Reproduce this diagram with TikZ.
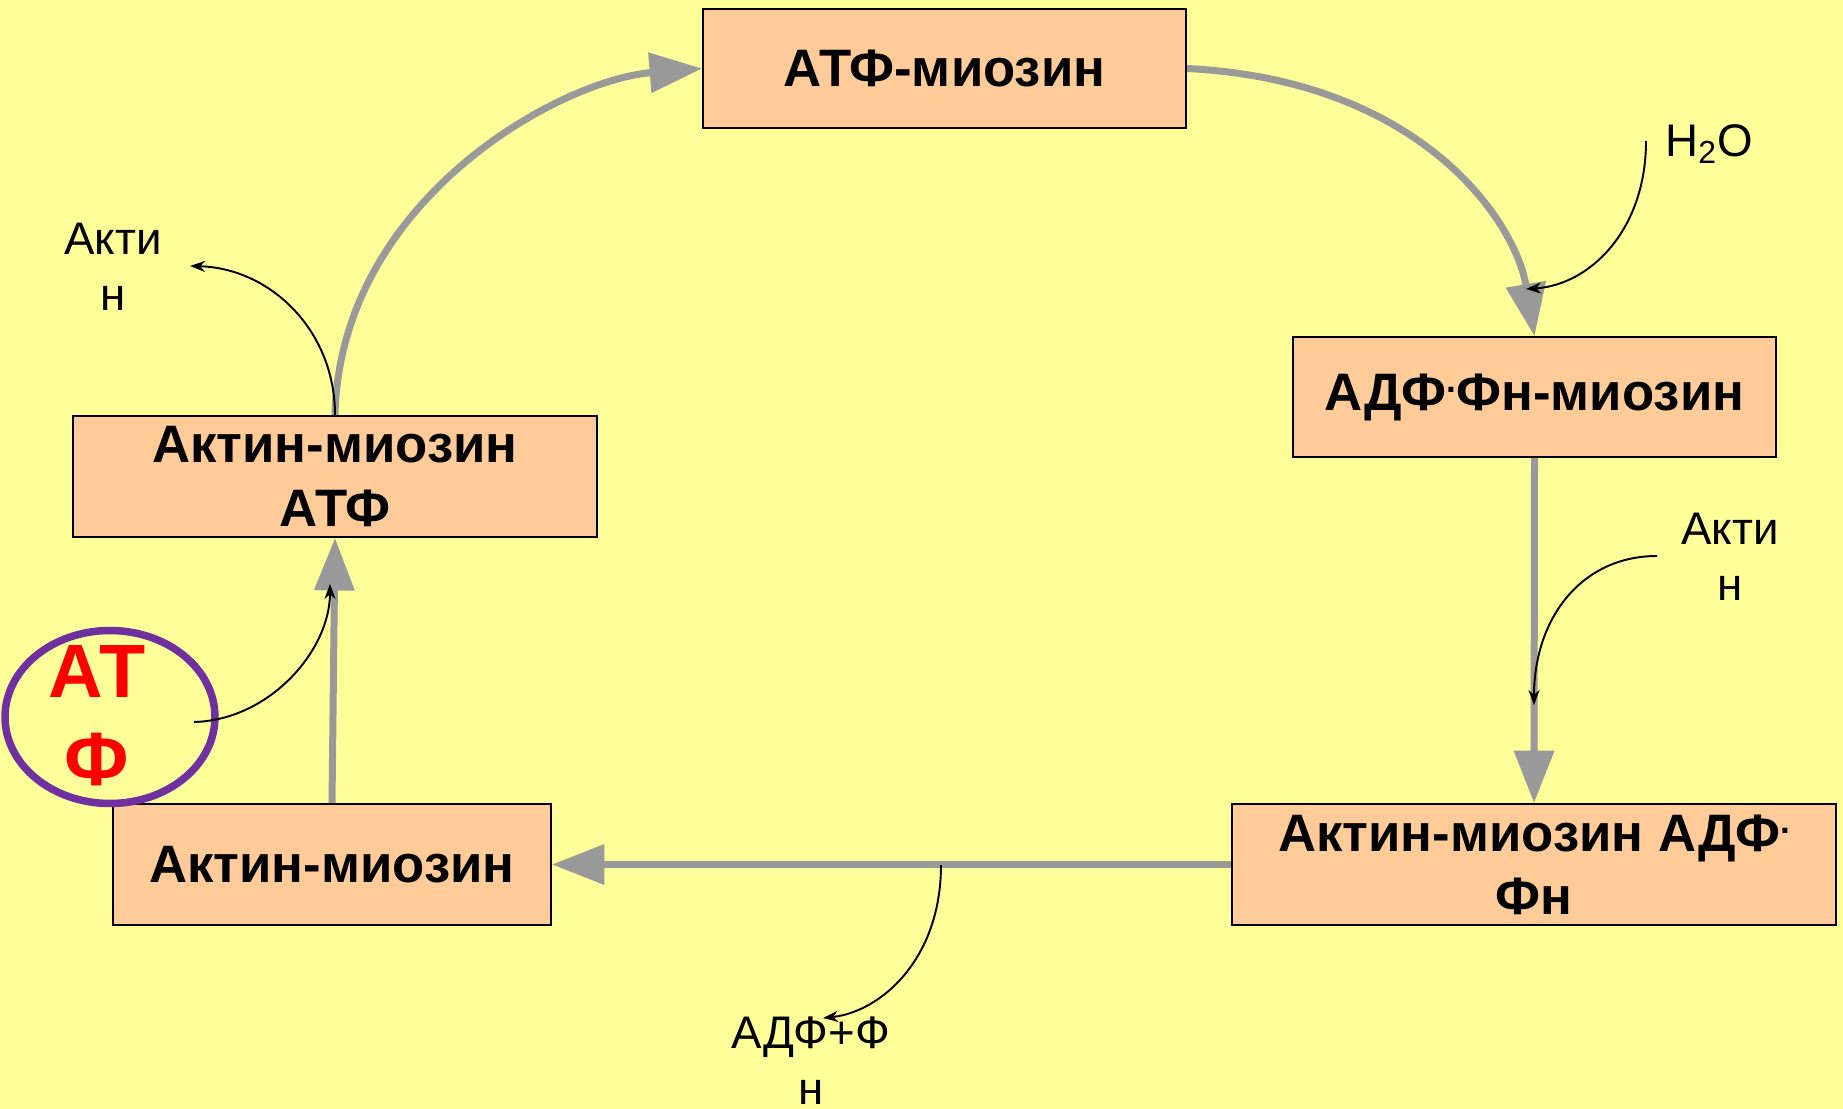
\documentclass[tikz,border=0pt]{standalone}
\usepackage{fontspec}
\setmainfont{Liberation Sans}
\usepackage{tikz}
\usetikzlibrary{arrows.meta, shapes.geometric}
\definecolor{cycleback}{HTML}{FFFF99}
\definecolor{cyclebox}{HTML}{FFCC99}
\definecolor{cyclegray}{HTML}{999999}
\definecolor{cyclepurple}{HTML}{7030A0}
\definecolor{cyclered}{HTML}{FF0000}
\newcommand{\updot}{{\fontsize{20}{20}\selectfont\raisebox{0.5em}{.}}}
\tikzset{
  box/.style={draw=black, line width=1.1pt, fill=cyclebox, align=center,
              inner sep=0pt, font=\bfseries\fontsize{30}{36}\selectfont},
  lbl/.style={align=center, inner sep=0pt, font=\fontsize{26}{32}\selectfont},
  ring/.style={ellipse, draw=cyclepurple, line width=0.15cm, inner sep=0pt,
               minimum width=4.2cm, minimum height=3.46cm},
  atplbl/.style={align=center, inner sep=0pt, text=cyclered,
                 font=\bfseries\fontsize{43}{50}\selectfont},
  flow/.style={-{Triangle[length=1.05cm, width=0.78cm]}, line width=0.14cm, draw=cyclegray},
  side/.style={-{Stealth[length=0.3cm, width=0.22cm]}, line width=1.1pt, draw=black},
}
\begin{document}
\begin{tikzpicture}[x=0.02cm, y=-0.02cm]
  \useasboundingbox (0,0) rectangle (1843,1109);
  \fill[cycleback] (0,0) rectangle (1843,1109);

  \node[box, minimum width=9.66cm, minimum height=2.38cm] (atpmyo) at (944.5,68.5) {АТФ-миозин};
  \node[box, minimum width=9.66cm, minimum height=2.4cm] (adpmyo) at (1534.5,397) {АДФ\updot Фн-миозин};
  \node[box, minimum width=12.08cm, minimum height=2.42cm] (amadp) at (1534,864.5) {Актин-миозин АДФ\updot\\Фн};
  \node[box, minimum width=8.76cm, minimum height=2.42cm] (am) at (332,864.5) {Актин-миозин};
  \node[box, minimum width=10.48cm, minimum height=2.42cm] (amatp) at (335,476.5) {Актин-миозин\\АТФ};

  \node[ring] (atp) at (110,717) {};
  \node[atplbl] (atptext) at (97,716) {АТ\\Ф};

  \node[lbl] (actinout) at (113,267) {Акти\\н};
  \node[lbl] (water) at (1709,144) {H\textsubscript{2}O};
  \node[lbl] (actinin) at (1730,557) {Акти\\н};
  \node[lbl] (adpout) at (811,1061) {АДФ+Ф\\н};

  \coordinate (actintip) at (190,266);
  \coordinate (waterfrom) at (1646,141);
  \coordinate (watertip) at (1526,289);
  \coordinate (actinfrom) at (1657,556);
  \coordinate (actintip2) at (1534,705);
  \coordinate (adpfrom) at (941,865);
  \coordinate (adptip) at (823,1018);
  \coordinate (atpfrom) at (194,722);
  \coordinate (atptip) at (330,584);

  \draw[flow] (amatp.north) .. controls (340,200) and (560,80) .. (atpmyo.west);
  \draw[flow] (atpmyo.east) .. controls (1420,80) and (1515,220) .. (adpmyo.north);
  \draw[flow] (adpmyo.south) -- (amadp.north);
  \draw[flow] (amadp.west) -- (am.east);
  \draw[flow] (am.north) -- (amatp.south);

  \draw[side] (amatp.north) .. controls (335,330) and (270,268) .. (actintip);
  \draw[side] (waterfrom) .. controls (1646,230) and (1590,285) .. (watertip);
  \draw[side] (actinfrom) .. controls (1580,556) and (1534,620) .. (actintip2);
  \draw[side] (adpfrom) .. controls (941,960) and (880,1012) .. (adptip);
  \draw[side] (atpfrom) .. controls (270,720) and (330,650) .. (atptip);
\end{tikzpicture}
\end{document}
